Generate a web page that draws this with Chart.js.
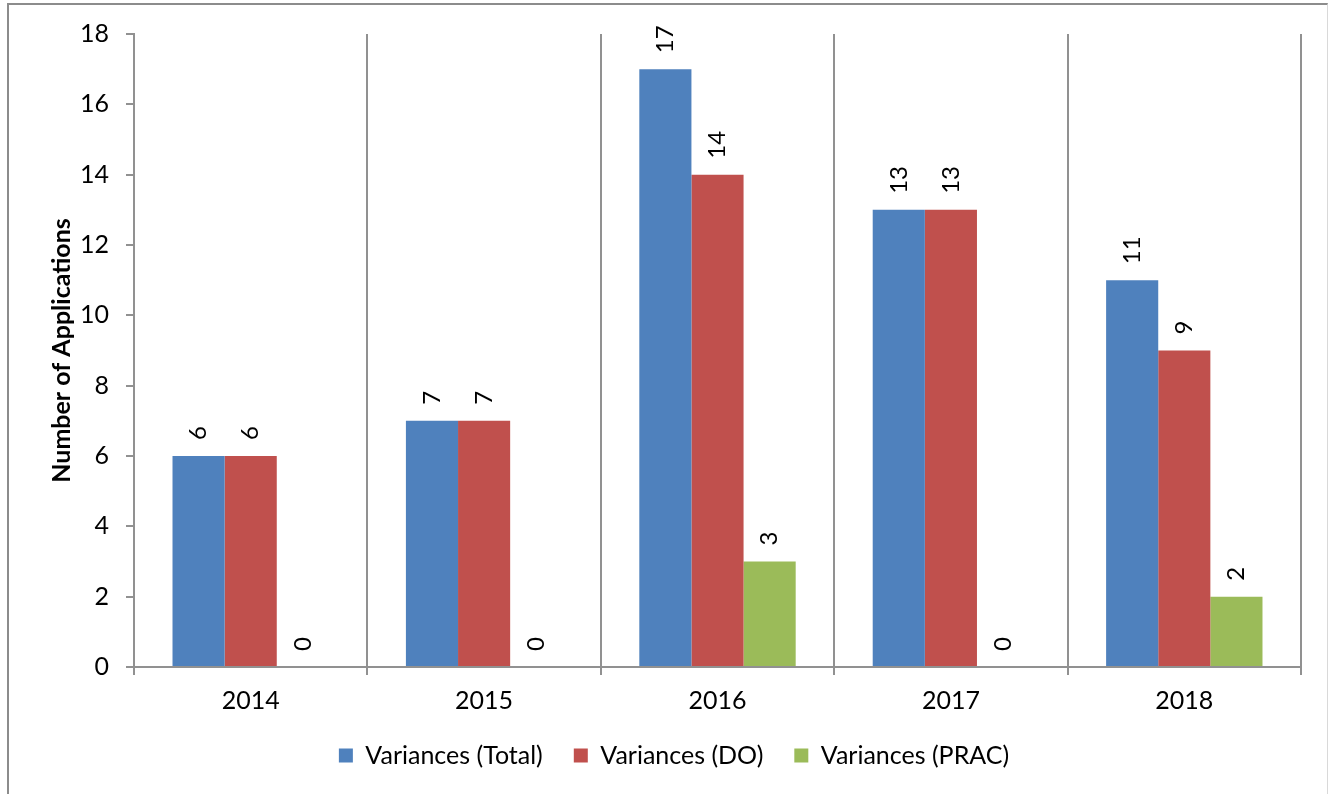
<!DOCTYPE html>
<html>
<head>
<meta charset="utf-8">
<title>Variances by Year</title>
<script src="https://cdn.jsdelivr.net/npm/chart.js@4.4.1/dist/chart.umd.min.js"></script>
<style>
  html, body { margin: 0; padding: 0; background: #ffffff; }
  #wrap { position: relative; width: 1330px; height: 794px; overflow: hidden; }
  #frame {
    position: absolute; left: 7px; top: 3px; width: 1321px; height: 820px;
    border-left: 2px solid #8c8c8c; border-top: 2px solid #8c8c8c;
    border-right: 1px solid #d9d9d9; box-sizing: border-box; pointer-events: none;
  }
  canvas { position: absolute; left: 0; top: 0; }
</style>
</head>
<body>
<div id="wrap">
  <canvas id="chart" width="1330" height="794"></canvas>
  <div id="frame"></div>
</div>
<script>
// Years on the category axis
const years = ['2014', '2015', '2016', '2017', '2018'];

// Number of applications per year
const variancesTotal = [6, 7, 17, 13, 11];
const variancesDO    = [6, 7, 14, 13, 9];
const variancesPRAC  = [0, 0, 3, 0, 2];

// Series names shown in the legend
const seriesNames = ['Variances (Total)', 'Variances (DO)', 'Variances (PRAC)'];

// Value axis range
const yMin = 0, yMax = 18, yStep = 2;
const yTitle = 'Number of Applications';

const FONT = 'Lato, "Noto Sans", sans-serif';
const AXIS_GREY = '#919191';

// Writes each bar's value vertically just above the bar
const barValueLabels = {
  id: 'barValueLabels',
  afterDatasetsDraw(chart) {
    const { ctx } = chart;
    chart.data.datasets.forEach((ds, di) => {
      const meta = chart.getDatasetMeta(di);
      if (meta.hidden) return;
      meta.data.forEach((bar, i) => {
        ctx.save();
        ctx.translate(bar.x, bar.y - 16);
        ctx.rotate(-Math.PI / 2);
        ctx.font = '24px ' + FONT;
        ctx.fillStyle = '#000000';
        ctx.textAlign = 'left';
        ctx.textBaseline = 'middle';
        ctx.fillText(String(ds.data[i]), 0, 0);
        ctx.restore();
      });
    });
  }
};

new Chart(document.getElementById('chart'), {
  type: 'bar',
  data: {
    labels: years,
    datasets: [
      { label: seriesNames[0], data: variancesTotal, backgroundColor: '#4F81BD' },
      { label: seriesNames[1], data: variancesDO,    backgroundColor: '#C0504D' },
      { label: seriesNames[2], data: variancesPRAC,  backgroundColor: '#9BBB59' }
    ]
  },
  options: {
    responsive: false,
    animation: false,
    events: [],
    layout: { padding: { top: 34, left: 47, right: 29, bottom: 16 } },
    datasets: {
      bar: { categoryPercentage: 0.67, barPercentage: 1.0, borderWidth: 0 }
    },
    scales: {
      x: {
        afterFit(scale) { scale.height = 45; },
        grid: {
          display: true, offset: true, drawOnChartArea: true, drawTicks: true,
          tickLength: 8, color: AXIS_GREY, lineWidth: 2
        },
        border: { display: true, color: AXIS_GREY, width: 2 },
        ticks: { color: '#000000', padding: 11, font: { family: FONT, size: 25 } }
      },
      y: {
        min: yMin, max: yMax,
        afterFit(scale) { scale.width = 87; },
        grid: {
          drawOnChartArea: false, drawTicks: true, tickLength: 8,
          color: AXIS_GREY, lineWidth: 2
        },
        border: { display: true, color: AXIS_GREY, width: 2 },
        ticks: { stepSize: yStep, color: '#000000', padding: 17, font: { family: FONT, size: 25 } },
        title: {
          display: true, text: yTitle, color: '#000000', padding: 0,
          font: { family: FONT, size: 25, weight: 'bold' }
        }
      }
    },
    plugins: {
      legend: {
        position: 'bottom',
        labels: {
          boxWidth: 14, boxHeight: 14, padding: 31, color: '#000000',
          font: { family: FONT, size: 25 }
        }
      },
      tooltip: { enabled: false },
      title: { display: false }
    }
  },
  plugins: [barValueLabels]
});
</script>
</body>
</html>
